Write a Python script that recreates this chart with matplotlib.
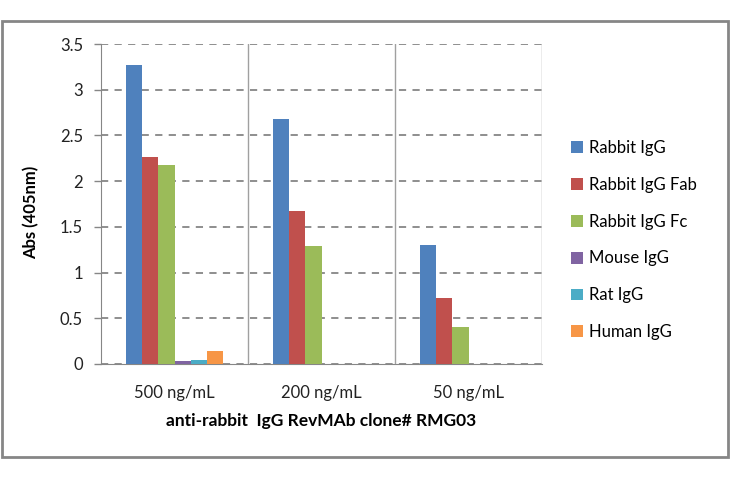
import numpy as np
import matplotlib.pyplot as plt
from matplotlib.patches import Patch, Rectangle

plt.rcParams['font.family'] = ['Lato', 'DejaVu Sans']

categories = ['500 ng/mL', '200 ng/mL', '50 ng/mL']
series = ['Rabbit IgG', 'Rabbit IgG Fab', 'Rabbit IgG Fc', 'Mouse IgG', 'Rat IgG', 'Human IgG']
colors = ['#4F81BD', '#C0504D', '#9BBB59', '#8064A2', '#4BACC6', '#F79646']

rabbit_igg = [3.27, 2.68, 1.30]
rabbit_fab = [2.26, 1.67, 0.72]
rabbit_fc = [2.18, 1.29, 0.40]
mouse_igg = [0.03, 0.0, 0.0]
rat_igg = [0.04, 0.0, 0.0]
human_igg = [0.145, 0.0, 0.0]
values = [rabbit_igg, rabbit_fab, rabbit_fc, mouse_igg, rat_igg, human_igg]

W, H = 730, 478
fig = plt.figure(figsize=(W / 100, H / 100), dpi=100)
# grey frame round the chart area
fig.patches.append(Rectangle((2 / W, 21 / H), 726 / W, 436 / H, transform=fig.transFigure,
                             fill=False, edgecolor='#868686', linewidth=2))

ax = fig.add_axes([101 / W, (H - 364) / H, (542 - 101) / W, (364 - 44) / H])

x = np.arange(len(categories))
bw = 0.11
for j, (name, vals) in enumerate(zip(series, values)):
    ax.bar(x + (j - 2.5) * bw, vals, width=bw, color=colors[j], label=name, zorder=3)

ax.set_xlim(-0.5, 2.5)
ax.set_ylim(0, 3.5)
ax.set_yticks(np.arange(0, 3.51, 0.5))
ax.set_yticklabels(['0', '0.5', '1', '1.5', '2', '2.5', '3', '3.5'])
ax.yaxis.grid(True, color='#868686', linestyle=(0, (4, 3.5)), linewidth=1.3, zorder=0)
for xv in [0.5, 1.5, 2.5]:
    ax.axvline(xv, color='#A0A0A0', linewidth=1, zorder=1)

ax.set_xticks(x)
ax.set_xticklabels(categories)
ax.tick_params(axis='x', length=0, pad=15, labelsize=12, colors='#222222')
ax.tick_params(axis='y', length=5, color='#868686', width=1, labelsize=12, colors='#222222', pad=8)
for s in ['top', 'right']:
    ax.spines[s].set_visible(False)
for s in ['left', 'bottom']:
    ax.spines[s].set_color('#868686')

ax.set_xlabel('anti-rabbit  IgG RevMAb clone# RMG03', fontsize=12.5, fontweight='bold', labelpad=9)
ax.set_ylabel('Abs (405nm)', fontsize=12, fontweight='bold')
ax.yaxis.set_label_coords(-0.14, 0.475)

handles = [Patch(facecolor=c, label=s) for c, s in zip(colors, series)]
fig.legend(handles=handles, loc='upper left', bbox_to_anchor=(556 / W, 1 - 125 / H),
           frameon=False, fontsize=12, handlelength=0.7, handleheight=0.7,
           handletextpad=0.4, labelspacing=1.25)

fig.savefig('out.png', dpi=100)
